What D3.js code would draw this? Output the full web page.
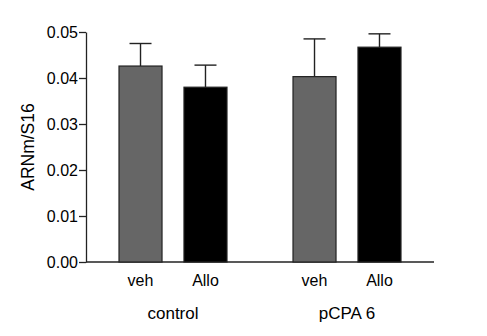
<!DOCTYPE html>
<html>
<head>
<meta charset="utf-8">
<script src="https://cdn.jsdelivr.net/npm/d3@7"></script>
<style>
  body { margin: 0; background: #fff; }
  svg { display: block; font-family: "Liberation Sans", Arial, sans-serif; }
</style>
</head>
<body>
<svg id="chart" width="487" height="336"></svg>
<script>
const groups = ["control", "pCPA 6"];
const treatments = ["veh", "Allo"];
const means = [0.0426, 0.0380, 0.0403, 0.0467];
const errors = [0.0049, 0.0048, 0.0082, 0.0029];
const yTicks = [0, 0.01, 0.02, 0.03, 0.04, 0.05];

const data = [];
groups.forEach((g, i) => {
  treatments.forEach((t, j) => {
    const k = i * treatments.length + j;
    data.push({ group: g, treatment: t, mean: means[k], err: errors[k] });
  });
});

const svg = d3.select("#chart");
const plotLeft = 86, plotRight = 434, plotTop = 32, plotBottom = 262;

const x0 = d3.scaleBand().domain(groups).range([plotLeft, plotRight]);
const x1 = d3
  .scaleBand()
  .domain(treatments)
  .range([0, x0.bandwidth()])
  .paddingInner(0.338)
  .paddingOuter(0.508);

const y = d3.scaleLinear().domain([0, 0.05]).range([plotBottom, plotTop]);

const fill = { veh: "#666666", Allo: "#000000" };

// y axis
const yAxis = svg
  .append("g")
  .attr("transform", `translate(${plotLeft}, 0)`)
  .call(
    d3.axisLeft(y)
      .tickValues(yTicks)
      .tickFormat(d3.format(".2f"))
      .tickSize(7)
      .tickSizeOuter(0)
      .tickPadding(1)
  );
yAxis.select(".domain").attr("stroke", "#222").attr("stroke-width", 1.3);
yAxis.selectAll(".tick line").attr("stroke", "#222").attr("stroke-width", 1.3);
yAxis.selectAll(".tick text")
  .attr("fill", "#000")
  .style("font-size", "16px")
  .style("font-family", "'Liberation Sans', Arial, sans-serif");

// baseline
svg
  .append("line")
  .attr("x1", plotLeft)
  .attr("x2", plotRight)
  .attr("y1", y(0))
  .attr("y2", y(0))
  .attr("stroke", "#222")
  .attr("stroke-width", 1.3);

const bars = svg
  .selectAll(".bar")
  .data(data)
  .enter()
  .append("g")
  .attr("class", "bar")
  .attr("transform", (d) => `translate(${x0(d.group) + x1(d.treatment)}, 0)`);

// upper error bars
bars
  .append("line")
  .attr("x1", x1.bandwidth() / 2)
  .attr("x2", x1.bandwidth() / 2)
  .attr("y1", (d) => y(d.mean))
  .attr("y2", (d) => y(d.mean + d.err))
  .attr("stroke", "#222")
  .attr("stroke-width", 1.4);

bars
  .append("line")
  .attr("x1", x1.bandwidth() / 2 - 11)
  .attr("x2", x1.bandwidth() / 2 + 11)
  .attr("y1", (d) => y(d.mean + d.err))
  .attr("y2", (d) => y(d.mean + d.err))
  .attr("stroke", "#222")
  .attr("stroke-width", 1.4);

bars
  .append("rect")
  .attr("x", 0)
  .attr("width", x1.bandwidth())
  .attr("y", (d) => y(d.mean))
  .attr("height", (d) => y(0) - y(d.mean))
  .attr("fill", (d) => fill[d.treatment])
  .attr("stroke", "#222")
  .attr("stroke-width", 1.2);

// treatment labels
bars
  .append("text")
  .attr("x", x1.bandwidth() / 2)
  .attr("y", 286)
  .attr("text-anchor", "middle")
  .style("font-size", "16px")
  .text((d) => d.treatment);

// group labels
svg
  .selectAll(".group-label")
  .data(groups)
  .enter()
  .append("text")
  .attr("class", "group-label")
  .attr("x", (d) => x0(d) + x0.bandwidth() / 2)
  .attr("y", 319)
  .attr("text-anchor", "middle")
  .style("font-size", "17px")
  .text((d) => d);

// y axis title
svg
  .append("text")
  .attr("transform", "translate(34, 147) rotate(-90)")
  .attr("text-anchor", "middle")
  .style("font-size", "17.5px")
  .text("ARNm/S16");
</script>
</body>
</html>
